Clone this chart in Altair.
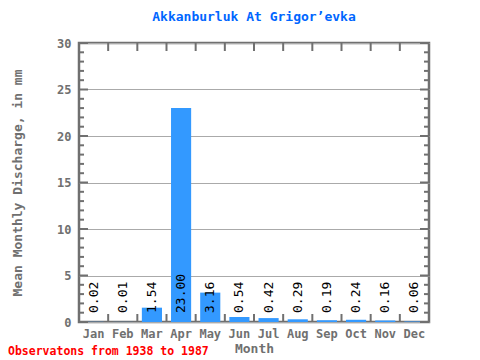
import altair as alt
import pandas as pd

months = ["Jan", "Feb", "Mar", "Apr", "May", "Jun", "Jul", "Aug", "Sep", "Oct", "Nov", "Dec"]
values = [0.02, 0.01, 1.54, 23.00, 3.16, 0.54, 0.42, 0.29, 0.19, 0.24, 0.16, 0.06]
labels = ["0.02", "0.01", "1.54", "23.00", "3.16", "0.54", "0.42", "0.29", "0.19", "0.24", "0.16", "0.06"]
y_major = [0, 5, 10, 15, 20, 25, 30]
y_minor = [v for v in range(0, 31) if v % 5 != 0]

W, H = 350, 279
FONT = "DejaVu Sans Mono"
GRAY = "#707070"

df = pd.DataFrame({"month": months, "value": values, "label": labels})
xscale = alt.Scale(domain=months, paddingInner=0, paddingOuter=0)
yscale = alt.Scale(domain=[0, 30], nice=False)

bars = alt.Chart(df).mark_bar(color="#3399FF", width=alt.RelativeBandSize(0.69)).encode(
    x=alt.X("month:N", scale=xscale, sort=months,
            axis=alt.Axis(title="Month", labelAngle=0, ticks=False, domain=False,
                          labelFont=FONT, labelFontSize=12, labelFontWeight="bold", labelColor=GRAY,
                          labelPadding=6, titleFont=FONT, titleFontSize=13, titleFontWeight="bold",
                          titleColor=GRAY, titlePadding=3)),
    y=alt.Y("value:Q", scale=yscale,
            axis=alt.Axis(title="Mean Monthly Discharge, in mm", values=y_major, ticks=False,
                          domain=False, grid=True, gridColor="#AAAAAA", gridWidth=1,
                          labelFont=FONT, labelFontSize=12, labelFontWeight="bold", labelColor=GRAY,
                          labelPadding=8, titleFont=FONT, titleFontSize=13, titleFontWeight="bold",
                          titleColor=GRAY, titlePadding=32)),
)

text = alt.Chart(df).mark_text(angle=270, align="left", baseline="middle", font=FONT,
                               fontSize=13, color="black", dx=9).encode(
    x=alt.X("month:N", scale=xscale, sort=months),
    y=alt.datum(0),
    text="label:N",
)

maj = pd.DataFrame({"v": y_major})
mino = pd.DataFrame({"v": y_minor})
def yticks(d, length):
    l = alt.Chart(d).mark_rule(color=GRAY, strokeWidth=2).encode(
        y=alt.Y("v:Q", scale=yscale), x=alt.value(0), x2=alt.value(length))
    r = alt.Chart(d).mark_rule(color=GRAY, strokeWidth=2).encode(
        y=alt.Y("v:Q", scale=yscale), x=alt.value(W - length), x2=alt.value(W))
    return l + r

bnd = pd.DataFrame({"m": months[1:]})
xt_top = alt.Chart(bnd).mark_rule(color=GRAY, strokeWidth=2).encode(
    x=alt.X("m:N", scale=xscale, sort=months, bandPosition=0), y=alt.value(0), y2=alt.value(8))
xt_bot = alt.Chart(bnd).mark_rule(color=GRAY, strokeWidth=2).encode(
    x=alt.X("m:N", scale=xscale, sort=months, bandPosition=0), y=alt.value(H - 8), y2=alt.value(H))

footer = alt.Chart(pd.DataFrame({"t": ["Observatons from 1938 to 1987"]})).mark_text(
    align="left", baseline="alphabetic", font=FONT, fontSize=11.5, fontWeight="bold", color="#FF0000"
).encode(x=alt.value(-71), y=alt.value(H + 33), text="t:N")

chart = alt.layer(
    bars, text, yticks(maj, 9), yticks(mino, 5), xt_top, xt_bot, footer
).properties(
    width=W, height=H,
    title=alt.TitleParams("Akkanburluk At Grigor’evka", font=FONT, fontSize=13, fontWeight="bold",
                          color="#0066FF", offset=13),
    autosize=alt.AutoSizeParams(type="none"),
    padding={"left": 71, "top": 35, "right": 43, "bottom": 38},
).configure_view(stroke=GRAY, strokeWidth=2.5)

chart.save("out.html", embed_options={"renderer": "svg", "actions": False})
